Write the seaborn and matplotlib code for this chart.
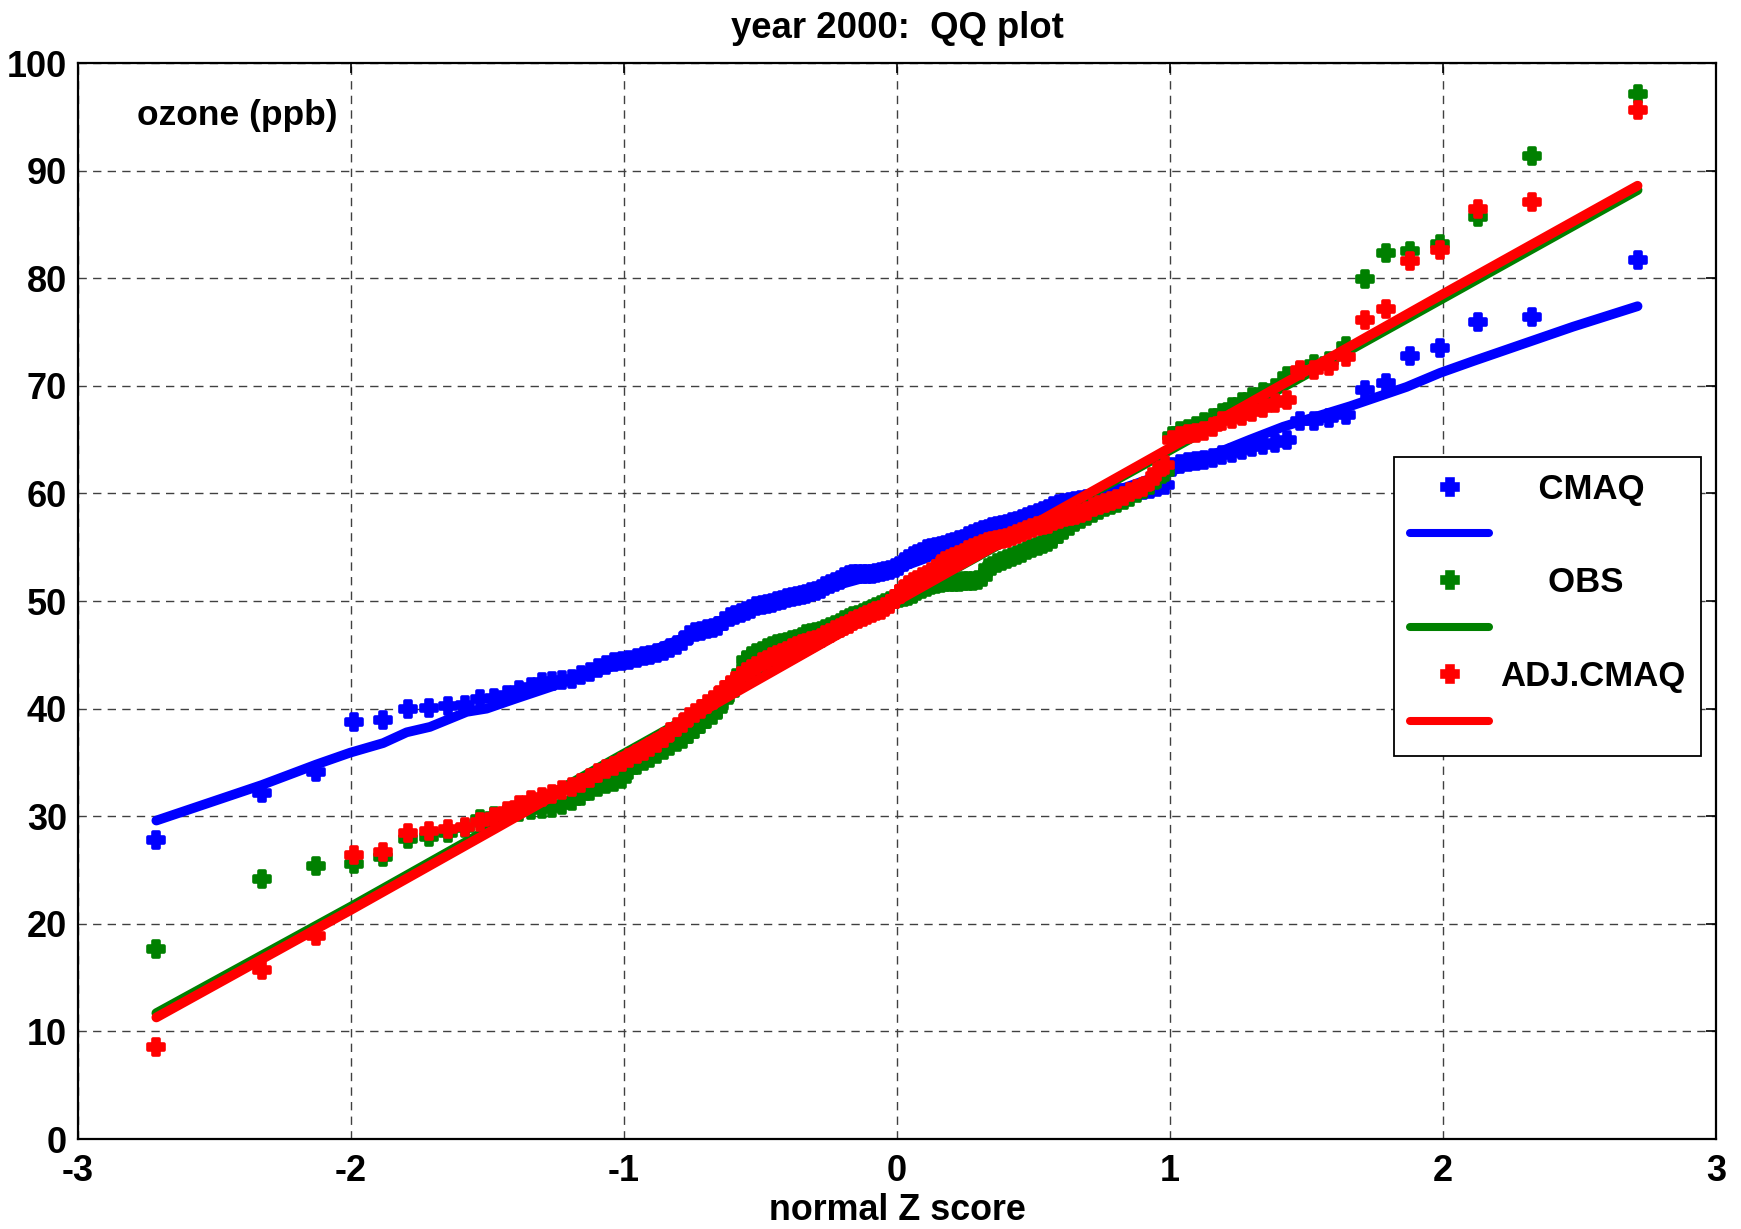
import matplotlib
matplotlib.use("Agg")
import matplotlib.pyplot as plt
from matplotlib.lines import Line2D
import seaborn as sns
import pandas as pd

# ---------------- data ----------------
# normal Z scores of the 150 ranked values (lower half; upper half is symmetric)
Z_LOW = [-2.713, -2.326, -2.128, -1.989, -1.881, -1.791, -1.713, -1.645, -1.583, -1.527,
         -1.476, -1.428, -1.383, -1.341, -1.301, -1.263, -1.227, -1.192, -1.159, -1.126,
         -1.095, -1.065, -1.036, -1.008, -0.981, -0.954, -0.928, -0.903, -0.878, -0.854,
         -0.830, -0.806, -0.783, -0.761, -0.739, -0.717, -0.695, -0.674, -0.654, -0.633,
         -0.613, -0.593, -0.573, -0.553, -0.534, -0.515, -0.496, -0.477, -0.458, -0.440,
         -0.422, -0.403, -0.385, -0.367, -0.349, -0.332, -0.314, -0.297, -0.279, -0.262,
         -0.245, -0.228, -0.210, -0.193, -0.176, -0.160, -0.143, -0.126, -0.109, -0.092,
         -0.075, -0.059, -0.042, -0.025, -0.008]
Z_SCORE = Z_LOW + [-z for z in reversed(Z_LOW)]

CMAQ = [27.8, 32.2, 34.1, 38.8, 38.9, 40.0, 40.1, 40.2, 40.3, 40.9,
        41.0, 41.3, 41.7, 42.0, 42.5, 42.6, 42.7, 42.8, 43.1, 43.4,
        43.8, 44.1, 44.3, 44.4, 44.5, 44.7, 44.9, 45.0, 45.2, 45.4,
        45.6, 45.9, 46.3, 46.8, 47.1, 47.2, 47.4, 47.5, 47.7, 48.1,
        48.5, 48.7, 48.9, 49.1, 49.3, 49.5, 49.6, 49.7, 49.8, 50.0,
        50.1, 50.3, 50.4, 50.5, 50.6, 50.7, 50.8, 50.9, 51.1, 51.4,
        51.6, 51.8, 52.0, 52.2, 52.4, 52.5, 52.5, 52.5, 52.5, 52.5,
        52.6, 52.7, 52.8, 52.9, 53.1, 53.3, 53.6, 53.9, 54.2, 54.4,
        54.6, 54.8, 54.9, 55.0, 55.1, 55.2, 55.4, 55.5, 55.7, 55.8,
        56.0, 56.2, 56.4, 56.6, 56.7, 56.9, 57.0, 57.1, 57.2, 57.3,
        57.4, 57.6, 57.8, 58.0, 58.2, 58.4, 58.6, 58.8, 59.0, 59.1,
        59.2, 59.3, 59.4, 59.5, 59.6, 59.7, 59.8, 59.9, 60.0, 60.0,
        60.1, 60.2, 60.3, 60.4, 60.6, 60.8, 62.5, 62.7, 62.9, 63.0,
        63.1, 63.3, 63.6, 63.8, 64.0, 64.3, 64.5, 64.7, 65.0, 66.7,
        66.7, 67.0, 67.3, 69.6, 70.3, 72.8, 73.5, 75.9, 76.4, 81.7]

OBS = [17.7, 24.2, 25.4, 25.6, 26.2, 27.9, 28.1, 28.4, 28.9, 29.7,
       30.0, 30.2, 30.4, 30.6, 30.7, 30.8, 31.0, 31.4, 31.9, 32.3,
       32.7, 33.0, 33.2, 33.5, 34.3, 34.8, 35.1, 35.4, 35.8, 36.2,
       36.5, 36.9, 37.2, 37.6, 38.1, 38.6, 39.0, 39.4, 40.0, 40.8,
       41.5, 42.4, 43.3, 44.5, 44.9, 45.2, 45.4, 45.6, 45.8, 46.0,
       46.1, 46.2, 46.4, 46.5, 46.7, 46.9, 47.0, 47.1, 47.2, 47.4,
       47.6, 47.8, 48.0, 48.2, 48.4, 48.6, 48.7, 48.9, 49.1, 49.3,
       49.4, 49.6, 49.8, 50.0, 50.2, 50.3, 50.4, 50.5, 50.7, 50.9,
       51.1, 51.3, 51.5, 51.6, 51.7, 51.8, 51.8, 51.8, 51.8, 51.9,
       51.9, 51.9, 52.0, 52.2, 53.1, 53.3, 53.5, 53.7, 53.9, 54.1,
       54.3, 54.5, 54.7, 54.9, 55.1, 55.3, 55.5, 55.8, 56.2, 56.6,
       57.0, 57.3, 57.6, 57.9, 58.2, 58.5, 58.7, 58.9, 59.1, 59.4,
       59.7, 60.0, 60.4, 60.8, 61.3, 62.0, 65.3, 65.8, 66.0, 66.3,
       66.6, 67.0, 67.5, 68.0, 68.5, 69.0, 69.4, 69.8, 70.9, 71.4,
       72.0, 72.3, 73.7, 79.9, 82.3, 82.5, 83.2, 85.7, 91.4, 97.1]

ADJ_CMAQ = [8.6, 15.7, 18.9, 26.4, 26.7, 28.4, 28.6, 28.8, 29.0, 29.5,
            29.9, 30.5, 31.0, 31.5, 31.8, 32.1, 32.4, 32.7, 33.1, 33.6,
            34.0, 34.4, 34.7, 35.0, 35.4, 35.8, 36.1, 36.4, 36.8, 37.3,
            37.8, 38.3, 38.7, 39.2, 39.6, 40.0, 40.4, 40.8, 41.2, 41.7,
            42.2, 42.6, 43.0, 43.4, 43.7, 44.0, 44.3, 44.5, 44.8, 45.0,
            45.2, 45.4, 45.6, 45.8, 46.0, 46.1, 46.3, 46.4, 46.6, 46.8,
            47.0, 47.3, 47.5, 47.7, 47.9, 48.1, 48.3, 48.5, 48.7, 48.9,
            49.1, 49.2, 49.4, 49.7, 50.2, 50.7, 51.1, 51.5, 51.8, 52.0,
            52.2, 52.4, 52.7, 53.0, 53.4, 53.7, 53.9, 54.1, 54.3, 54.5,
            54.7, 54.9, 55.1, 55.3, 55.5, 55.6, 55.7, 55.8, 55.9, 56.0,
            56.2, 56.4, 56.6, 56.8, 57.0, 57.1, 57.2, 57.4, 57.6, 57.8,
            57.9, 58.0, 58.2, 58.4, 58.7, 58.9, 59.1, 59.3, 59.5, 59.8,
            60.1, 60.4, 60.6, 61.2, 62.0, 62.6, 65.0, 65.3, 65.5, 65.6,
            65.8, 66.2, 66.7, 66.9, 67.2, 67.6, 67.9, 68.4, 68.7, 71.5,
            71.5, 71.8, 72.7, 76.1, 77.1, 81.6, 82.6, 86.4, 87.1, 95.6]

# fitted / reference lines
CMAQ_LINE_Z = [-2.713, -2.327, -2.128, -2.004, -1.882, -1.796, -1.711, -1.576, -1.503, -1.4,
               -1.0, -0.5, 0.0, 0.5, 0.75, 1.0, 1.293, 1.415, 1.659, 1.867,
               1.989, 2.111, 2.477, 2.713]
CMAQ_LINE = [29.6, 32.9, 34.8, 35.9, 36.8, 37.8, 38.3, 39.7, 40.0, 40.9,
             44.3, 49.5, 53.0, 57.6, 59.8, 62.0, 65.0, 66.2, 68.1, 69.9,
             71.2, 72.3, 75.5, 77.4]
FIT_LINE_Z = [-2.713, -2.0, -1.467, 0.0, 0.927, 2.026, 2.713]
OBS_LINE = [11.7, 21.6, 29.2, 50.0, 63.0, 78.5, 88.2]
ADJ_LINE = [11.3, 21.3, 28.9, 50.0, 63.2, 78.9, 88.6]

SERIES = ["CMAQ", "OBS", "ADJ.CMAQ"]
COLORS = ["#0000FF", "#008000", "#FF0000"]
X_TICKS = [-3, -2, -1, 0, 1, 2, 3]
Y_TICKS = [0, 10, 20, 30, 40, 50, 60, 70, 80, 90, 100]

# ---------------- style ----------------
sns.set_theme(style="white")
plt.rcParams["font.family"] = ["Liberation Sans", "DejaVu Sans"]
plt.rcParams["font.weight"] = "bold"
plt.rcParams["axes.unicode_minus"] = False
plt.rcParams["text.color"] = "black"
plt.rcParams["axes.labelcolor"] = "black"
plt.rcParams["xtick.color"] = "black"
plt.rcParams["ytick.color"] = "black"

fig = plt.figure(figsize=(17.41, 12.29), dpi=100)
ax = fig.add_axes([0.0448, 0.0732, 0.9408, 0.8755])

points = {"CMAQ": CMAQ, "OBS": OBS, "ADJ.CMAQ": ADJ_CMAQ}
lines = {"CMAQ": (CMAQ_LINE_Z, CMAQ_LINE),
         "OBS": (FIT_LINE_Z, OBS_LINE),
         "ADJ.CMAQ": (FIT_LINE_Z, ADJ_LINE)}

for name, col in zip(SERIES, COLORS):
    dfp = pd.DataFrame({"z": Z_SCORE, "ozone": points[name]})
    sns.scatterplot(data=dfp, x="z", y="ozone", ax=ax, marker="P", s=120,
                    color=col, edgecolor=col, linewidth=2.6, legend=False, zorder=3)
    lz, lv = lines[name]
    dfl = pd.DataFrame({"z": lz, "ozone": lv})
    sns.lineplot(data=dfl, x="z", y="ozone", ax=ax, sort=False, estimator=None,
                 color=col, linewidth=7, legend=False, zorder=3)

ax.set_xlim(-3, 3)
ax.set_ylim(0, 100)
ax.set_xticks(X_TICKS)
ax.set_yticks(Y_TICKS)
ax.set_xticklabels([str(t) for t in X_TICKS])
ax.set_yticklabels([str(t) for t in Y_TICKS])
ax.grid(True, color="#404040", linestyle=(0, (6, 4.5)), linewidth=1.0, zorder=1)
ax.set_axisbelow(True)
for sp in ax.spines.values():
    sp.set_color("black")
    sp.set_linewidth(1.6)
ax.tick_params(axis="both", which="both", direction="in", length=7, width=1.2,
               top=True, right=True, labelsize=26, colors="black", pad=8)
ax.tick_params(axis="x", pad=11)

ax.set_title("year 2000:  QQ plot", fontsize=26.3, fontweight="bold", pad=18,
             color="black")
ax.set_xlabel("normal Z score", fontsize=25.8, fontweight="bold", labelpad=3)
ax.set_ylabel("")
ax.text(0.0358, 0.951, "ozone (ppb)", transform=ax.transAxes, fontsize=25.5,
        fontweight="bold", va="center", ha="left", color="black")

# legend: marker entries and line entries
handles, labels = [], []
pads = ["    ", "     ", ""]
for name, col, pad in zip(SERIES, COLORS, pads):
    handles.append(Line2D([], [], marker="P", linestyle="none", color=col,
                          markersize=11, markeredgewidth=2.6, markeredgecolor=col))
    labels.append(pad + name)
    handles.append(Line2D([], [], color=col, linewidth=5.8))
    labels.append("")
leg = ax.legend(handles, labels, loc="upper right", bbox_to_anchor=(0.9908, 0.6338),
                borderaxespad=0, fontsize=25, frameon=True, fancybox=False,
                framealpha=1, edgecolor="black", handlelength=2.3,
                handletextpad=0.3, labelspacing=0.4, borderpad=0.45)
leg.get_frame().set_linewidth(1.3)
for t in leg.get_texts():
    t.set_fontweight("bold")
    t.set_color("black")

fig.savefig("out.png", dpi=100)
